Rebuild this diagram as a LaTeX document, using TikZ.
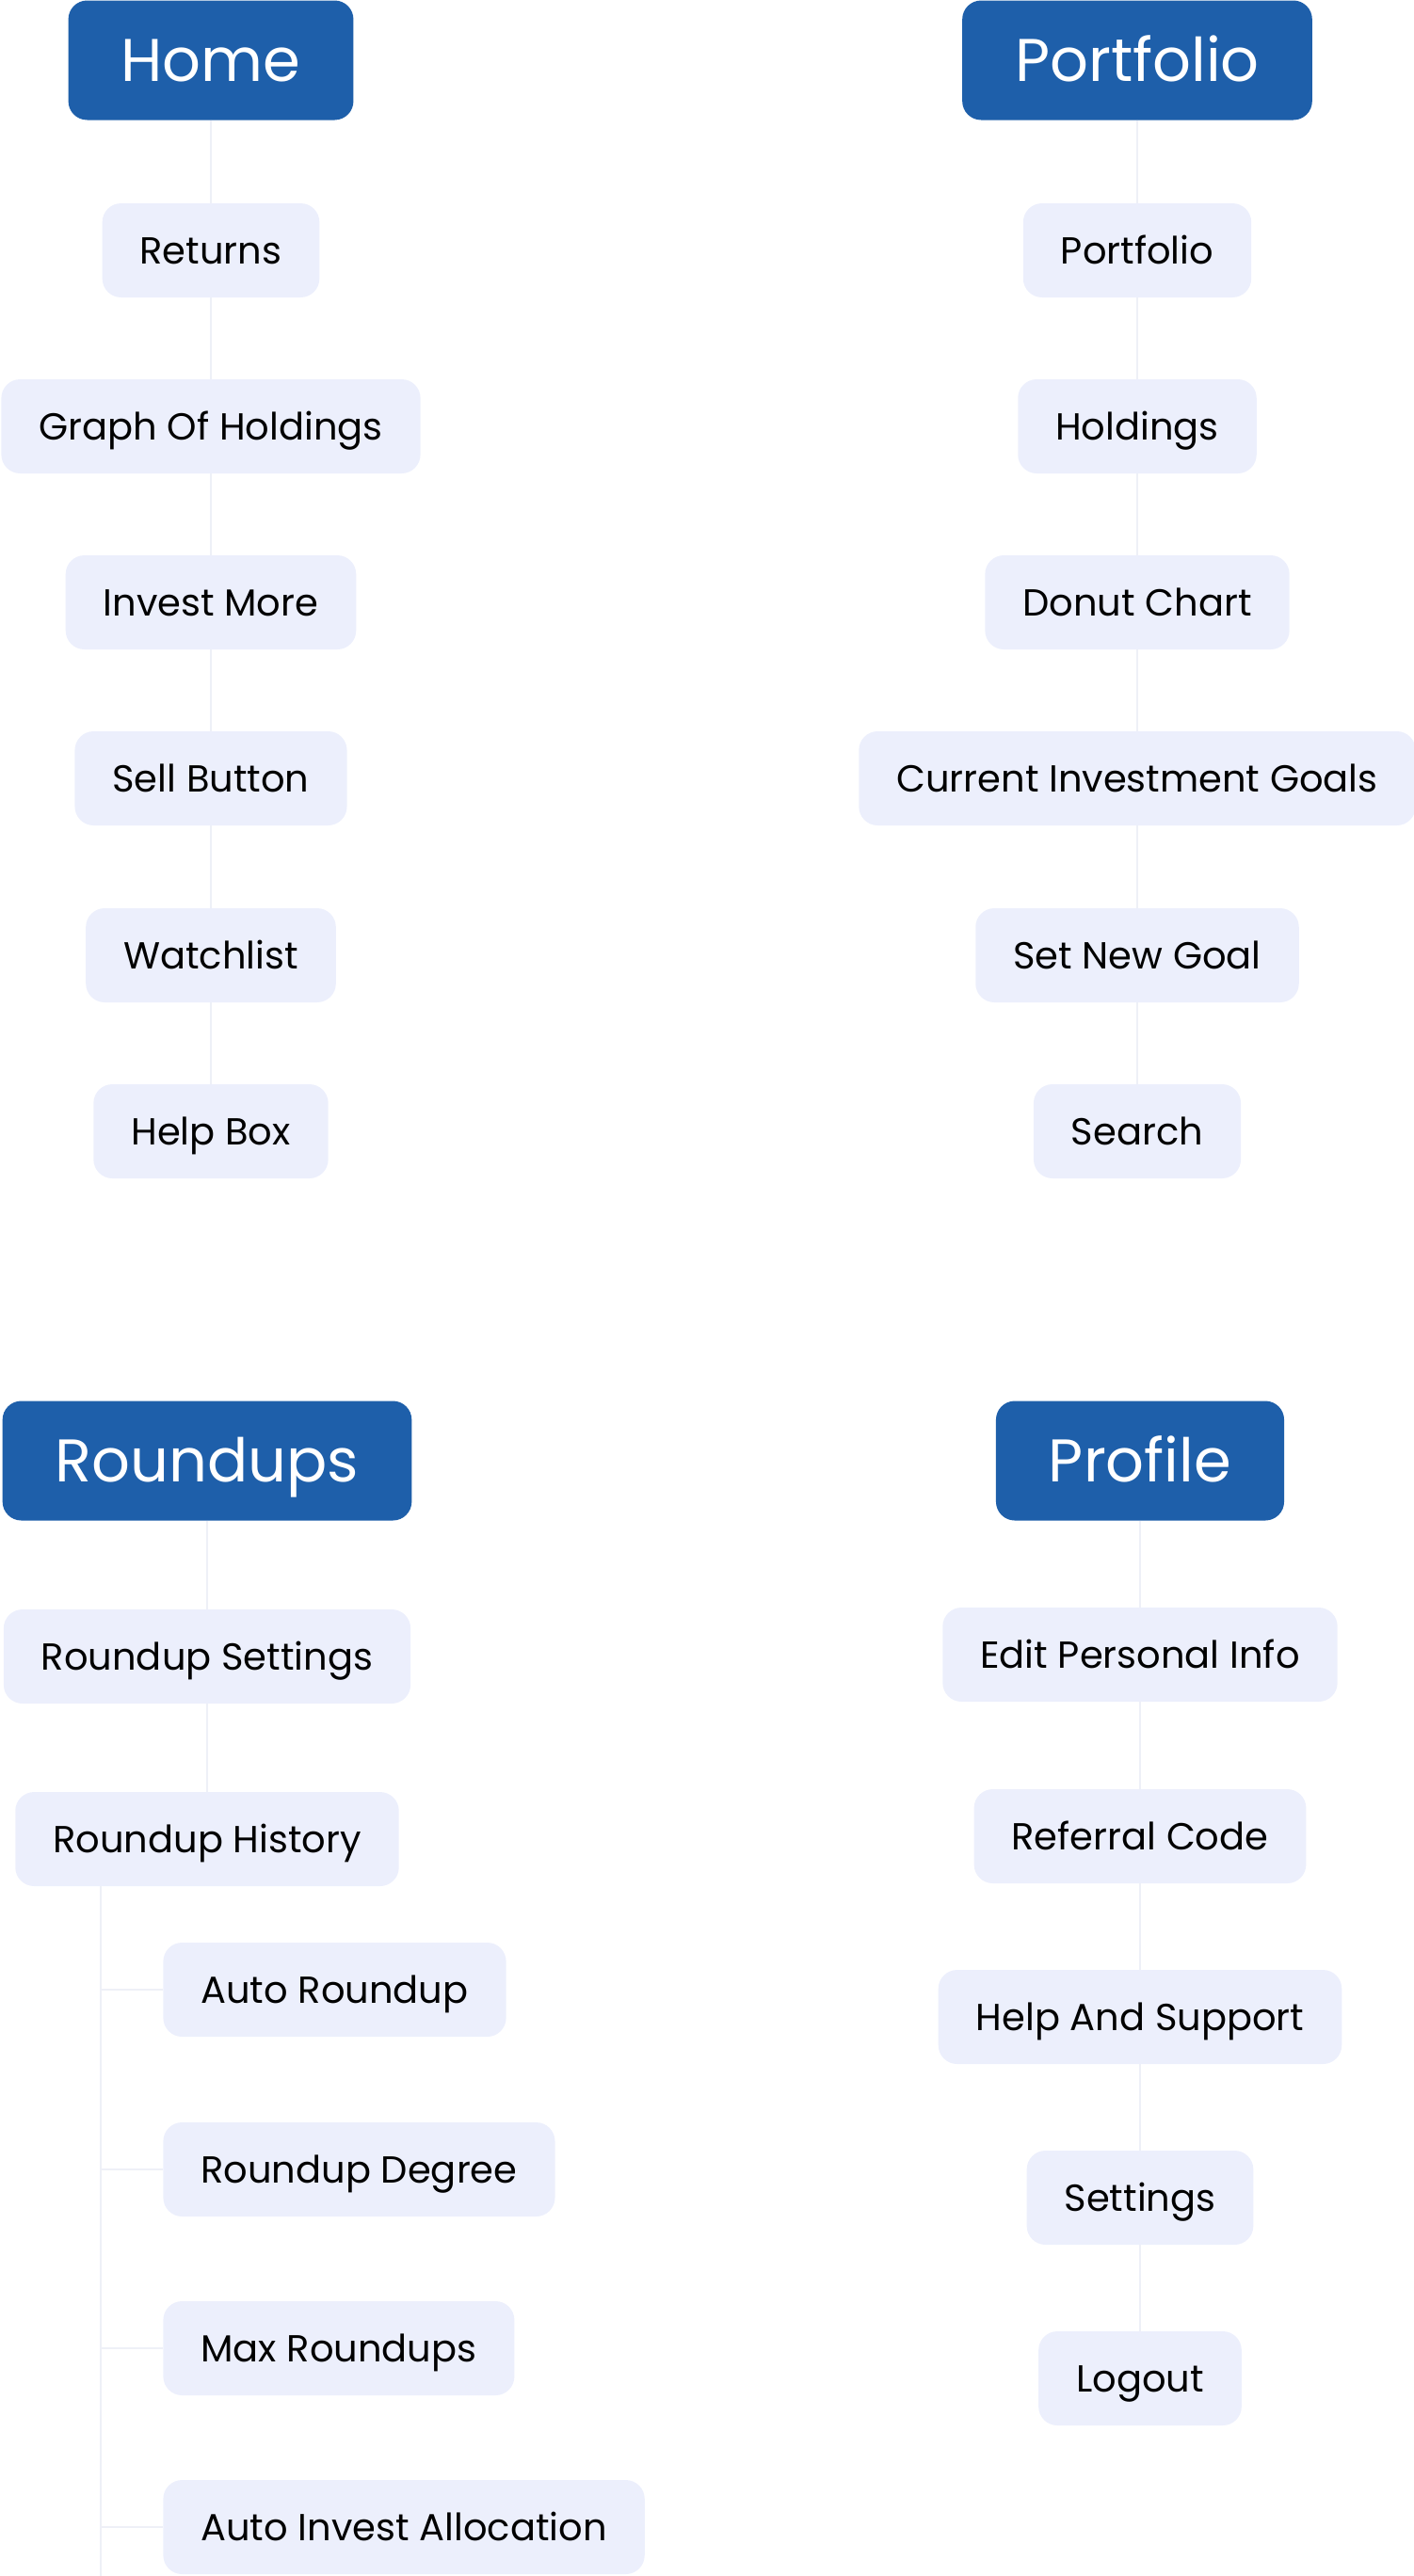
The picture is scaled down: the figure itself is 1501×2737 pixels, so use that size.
\documentclass[tikz,border=0pt]{standalone}
\usepackage{fontspec}
\setmainfont{Poppins}
\definecolor{headblue}{HTML}{1E5FAA}
\definecolor{itemfill}{HTML}{ECEFFC}
\definecolor{linkgray}{HTML}{EEF0F7}
\tikzset{
  head/.style={fill=headblue, text=white, rounded corners=10pt, minimum height=63.5pt,
    inner xsep=28pt, text height=22.4pt, text depth=0pt, font=\fontsize{32}{38}\selectfont},
  item/.style={fill=itemfill, text=black, rounded corners=10pt, minimum height=50pt,
    inner xsep=20pt, text height=14pt, text depth=0pt, font=\fontsize{20}{24}\selectfont},
  link/.style={draw=linkgray, line width=1pt}
}

\begin{document}
\begin{tikzpicture}[x=0.5pt, y=-0.5pt]
\useasboundingbox (0,0) rectangle (1501,2737);

% home column
\node[head] (home) at (224,64) {Home};
\node[item] (returns) at (224,266) {Returns};
\node[item] (graph) at (224,453) {Graph Of Holdings};
\node[item] (invest) at (224,640) {Invest More};
\node[item] (sell) at (224,827) {Sell Button};
\node[item] (watch) at (224,1015) {Watchlist};
\node[item] (help) at (224,1202) {Help Box};

% portfolio column
\node[head] (port) at (1208,64) {Portfolio};
\node[item] (portitem) at (1208,266) {Portfolio};
\node[item] (hold) at (1208,453) {Holdings};
\node[item] (donut) at (1208,640) {Donut Chart};
\node[item] (goals) at (1208,827) {Current Investment Goals};
\node[item] (newgoal) at (1208,1015) {Set New Goal};
\node[item] (search) at (1208,1202) {Search};

% roundups column
\node[head] (round) at (220,1552) {Roundups};
\node[item] (rset) at (220,1760) {Roundup Settings};
\node[item] (rhist) at (220,1954) {Roundup History};
\node[item, anchor=west] (auto) at (173,2114) {Auto Roundup};
\node[item, anchor=west] (degree) at (173,2305) {Roundup Degree};
\node[item, anchor=west] (maxr) at (173,2495) {Max Roundups};
\node[item, anchor=west] (alloc) at (173,2685) {Auto Invest Allocation};
\coordinate (rtrunk) at (107,2737);

% profile column
\node[head] (profile) at (1211,1552) {Profile};
\node[item] (edit) at (1211,1758) {Edit Personal Info};
\node[item] (refer) at (1211,1951) {Referral Code};
\node[item] (support) at (1211,2143) {Help And Support};
\node[item] (settings) at (1211,2335) {Settings};
\node[item] (logout) at (1211,2527) {Logout};

\draw[link] (home) -- (returns) -- (graph) -- (invest) -- (sell) -- (watch) -- (help);
\draw[link] (port) -- (portitem) -- (hold) -- (donut) -- (goals) -- (newgoal) -- (search);
\draw[link] (round) -- (rset) -- (rhist);
\draw[link] (profile) -- (edit) -- (refer) -- (support) -- (settings) -- (logout);
\draw[link] (rhist.south -| rtrunk) -- (rtrunk);
\foreach \n in {auto,degree,maxr,alloc}
  \draw[link] (\n.west -| rtrunk) -- (\n.west);
\end{tikzpicture}
\end{document}
